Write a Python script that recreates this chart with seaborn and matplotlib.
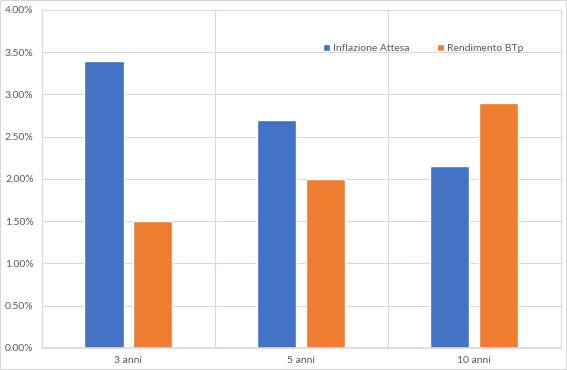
import pandas as pd
import matplotlib.pyplot as plt
import seaborn as sns
from matplotlib.ticker import PercentFormatter
from matplotlib.patches import Rectangle

# data
scadenze = ['3 anni', '5 anni', '10 anni']
inflazione = [3.40, 2.70, 2.15]
rendimento = [1.50, 2.00, 2.90]

df = pd.DataFrame({
    'scadenza': scadenze * 2,
    'valore': inflazione + rendimento,
    'serie': ['Inflazione Attesa'] * 3 + ['Rendimento BTp'] * 3,
})

sns.set_style('white')
plt.rcParams['font.family'] = ['Lato', 'DejaVu Sans']

fig = plt.figure(figsize=(5.67, 3.70), dpi=100)
ax = fig.add_axes([0.074, 0.0595, 0.915, 0.914])

sns.barplot(data=df, x='scadenza', y='valore', hue='serie',
            palette=['#4472C4', '#ED7D31'], width=0.566, gap=0.2,
            saturation=1, ax=ax)

ax.set_ylim(0, 4)
ax.set_xlim(-0.5, 2.5)
ax.set_yticks([i * 0.5 for i in range(9)])
ax.yaxis.set_major_formatter(PercentFormatter(decimals=2))
ax.grid(axis='y', color='#D9D9D9', linewidth=0.8)
for xv in [0.5, 1.5]:
    ax.axvline(xv, color='#D9D9D9', linewidth=0.8, zorder=0)
ax.set_axisbelow(True)
ax.set_xlabel('')
ax.set_ylabel('')
ax.tick_params(axis='both', colors='#595959', labelsize=7.5, length=0, pad=6)
for s in ['left', 'right']:
    ax.spines[s].set_color('#D9D9D9')
    ax.spines[s].set_linewidth(0.8)
ax.spines['top'].set_visible(False)
ax.spines['bottom'].set_color('#D9D9D9')
ax.spines['bottom'].set_linewidth(1.2)

leg = ax.legend(loc='center', bbox_to_anchor=(0.735, 0.885), ncol=2, frameon=False,
                fontsize=7.5, handlelength=0.7, handleheight=0.7,
                handletextpad=0.3, columnspacing=2.6)
for t in leg.get_texts():
    t.set_color('#595959')

fig.patches.append(Rectangle((0, 0), 1, 1, transform=fig.transFigure,
                             fill=False, edgecolor='#D9D9D9', linewidth=1.5))

plt.savefig('out.png', dpi=100)
